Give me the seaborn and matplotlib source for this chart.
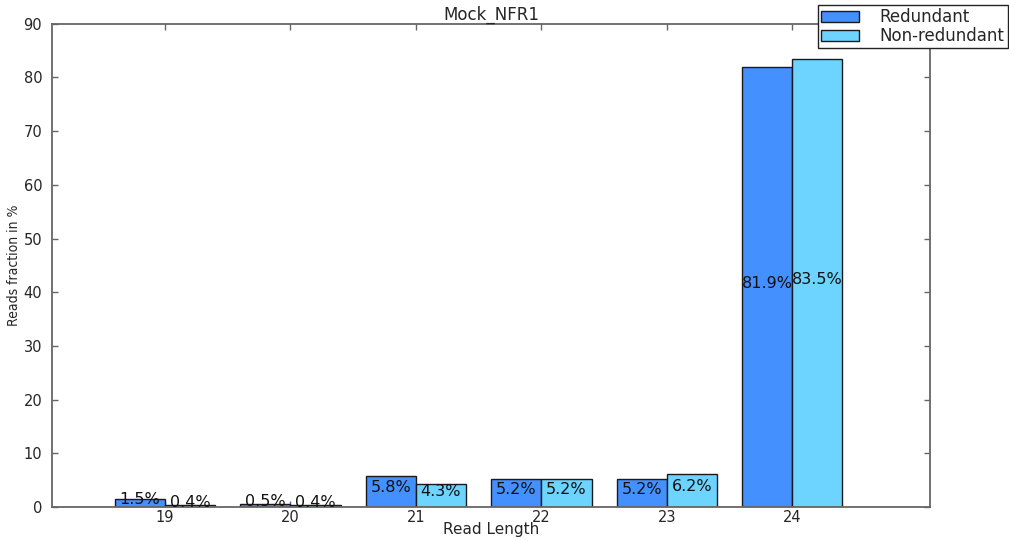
import matplotlib
matplotlib.use("Agg")
import pandas as pd
import matplotlib.pyplot as plt
import seaborn as sns

read_lengths = [19, 20, 21, 22, 23, 24]
redundant = [1.5, 0.5, 5.8, 5.2, 5.2, 81.9]
non_redundant = [0.4, 0.4, 4.3, 5.2, 6.2, 83.5]
series_names = ["Redundant", "Non-redundant"]
colors = ["#4590FF", "#6CD4FF"]

df = pd.DataFrame({
    "length": read_lengths * 2,
    "fraction": redundant + non_redundant,
    "type": [series_names[0]] * len(read_lengths) + [series_names[1]] * len(read_lengths),
})

sns.set_style("ticks")
plt.rcParams["font.family"] = ["DejaVu Sans"]

fig, ax = plt.subplots(figsize=(10.09, 5.41), dpi=100)
fig.subplots_adjust(left=0.0515, right=0.922, top=0.956, bottom=0.063)

sns.barplot(
    data=df, x="length", y="fraction", hue="type",
    palette=colors, edgecolor="#1a1a1a", linewidth=1.0,
    saturation=1, errorbar=None, ax=ax, width=0.8,
)

# percentage labels in the middle of each bar
for cont in ax.containers:
    for rect in cont:
        h = rect.get_height()
        ax.text(rect.get_x() + rect.get_width() / 2, h / 2 + 0.7, f"{h:.1f}%",
                ha="center", va="center", fontsize=11.5, color="#111111")

ax.set_xlim(-0.9, 6.1)
ax.set_ylim(0, 90)
ax.set_yticks(range(0, 91, 10))
ax.tick_params(direction="in", top=True, right=True, labelsize=10.5, length=4,
               width=1, color="#666666")
ax.tick_params(axis="x", pad=2)
ax.tick_params(axis="y", pad=7)
for sp in ax.spines.values():
    sp.set_color("#666666")
    sp.set_linewidth(1.3)

ax.set_title("Mock_NFR1", fontsize=12, pad=3)
ax.set_xlabel("Read Length", fontsize=11, labelpad=-2)
ax.set_ylabel("Reads fraction in %", fontsize=10, fontstretch="condensed", labelpad=2)

leg = ax.legend(loc="upper right", bbox_to_anchor=(1.088, 1.039), borderaxespad=0,
                fontsize=12, fancybox=False, framealpha=1, edgecolor="#222222",
                handlelength=2.3, handleheight=0.6, handletextpad=1.2,
                borderpad=0.2, labelspacing=0.05)
leg.get_frame().set_linewidth(1.0)

fig.savefig("out.png", dpi=100)
